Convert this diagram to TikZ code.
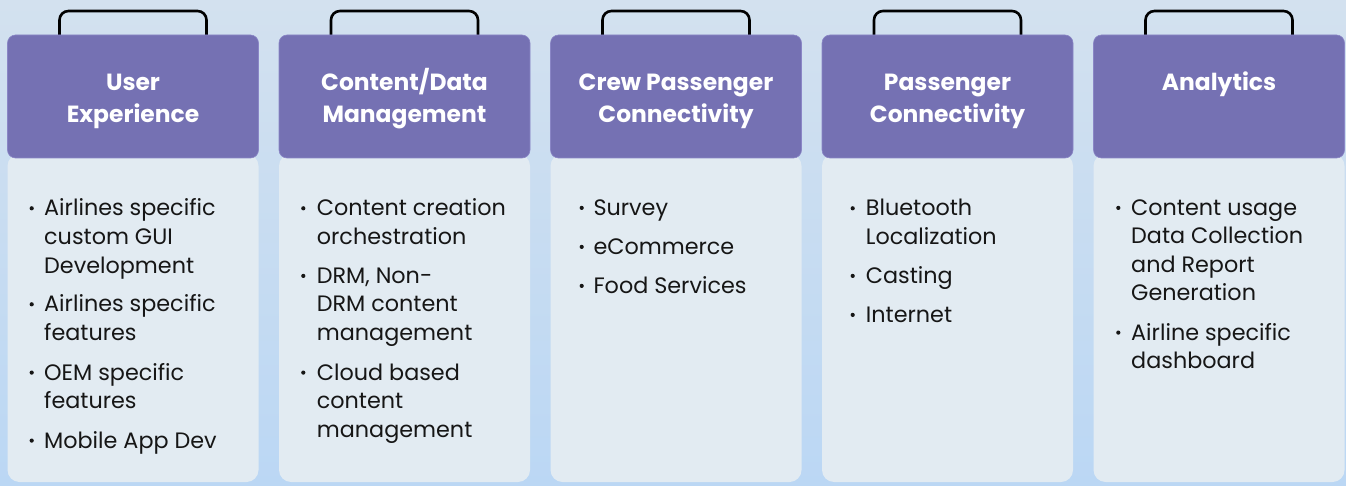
\documentclass[tikz,border=0pt]{standalone}
\usepackage{fontspec}
\setmainfont{Poppins}
\definecolor{bgtop}{HTML}{D3E1EF}
\definecolor{bgbot}{HTML}{BBD7F4}
\definecolor{cardbody}{HTML}{E2EBF2}
\definecolor{hdrfill}{HTML}{7571B3}
\definecolor{hdredge}{HTML}{8A86C6}
\definecolor{ink}{HTML}{161616}
\tikzset{
  hdr/.style={rectangle, rounded corners=8pt, fill=hdrfill, draw=hdredge, line width=0.6pt,
    minimum width=251pt, minimum height=123pt, inner sep=0pt},
  bodybox/.style={rectangle, rounded corners=12pt, fill=cardbody,
    minimum width=251pt, minimum height=328pt, inner sep=0pt},
  handle/.style={draw=black, line width=2.6pt, rounded corners=9pt},
  htxt/.style={anchor=base, text=white, font=\bfseries\fontsize{23.4}{27}\selectfont, inner sep=0pt},
  txt/.style={anchor=base west, text=ink, font=\fontsize{22.3}{26}\selectfont, inner sep=0pt},
  bul/.style={circle, fill=ink, inner sep=0pt, minimum size=4.2pt},
}
\begin{document}
\begin{tikzpicture}[x=1pt,y=-1pt]
\shade[top color=bgtop, bottom color=bgbot] (0,0) rectangle (1346,486);
\useasboundingbox (0,0) rectangle (1346,486);

% handles
\draw[handle] (59.5,36) -- (59.5,11) -- (206.5,11) -- (206.5,36);
\draw[handle] (331,36) -- (331,11) -- (478,11) -- (478,36);
\draw[handle] (602.5,36) -- (602.5,11) -- (749.5,11) -- (749.5,36);
\draw[handle] (874,36) -- (874,11) -- (1021,11) -- (1021,36);
\draw[handle] (1145.5,36) -- (1145.5,11) -- (1292.5,11) -- (1292.5,36);

% card bodies
\node[bodybox] (b1) at (133,318) {};
\node[bodybox] (b2) at (404.5,318) {};
\node[bodybox] (b3) at (676,318) {};
\node[bodybox] (b4) at (947.5,318) {};
\node[bodybox] (b5) at (1219,318) {};

% headers
\node[hdr] (h1) at (133,96.5) {};
\node[hdr] (h2) at (404.5,96.5) {};
\node[hdr] (h3) at (676,96.5) {};
\node[hdr] (h4) at (947.5,96.5) {};
\node[hdr] (h5) at (1219,96.5) {};

\node[htxt] (h1a) at (133,91) {User};
\node[htxt] (h1b) at (133,123) {Experience};
\node[htxt] (h2a) at (404.5,91) {Content/Data};
\node[htxt] (h2b) at (404.5,123) {Management};
\node[htxt] (h3a) at (676,91) {Crew Passenger};
\node[htxt] (h3b) at (676,123) {Connectivity};
\node[htxt] (h4a) at (947.5,91) {Passenger};
\node[htxt] (h4b) at (947.5,123) {Connectivity};
\node[htxt] (h5a) at (1219,91) {Analytics};

% card 1
\node[bul] (c1p1) at (31.7,208.3) {};
\node[bul] (c1p2) at (31.7,304.3) {};
\node[bul] (c1p3) at (31.7,372.6) {};
\node[bul] (c1p4) at (31.7,440.6) {};
\node[txt] (c1l1) at (44,215.7) {Airlines specific};
\node[txt] (c1l2) at (44,244.3) {custom GUI};
\node[txt] (c1l3) at (44,273) {Development};
\node[txt] (c1l4) at (44,311.7) {Airlines specific};
\node[txt] (c1l5) at (44,340.5) {features};
\node[txt] (c1l6) at (44,380) {OEM specific};
\node[txt] (c1l7) at (44,408.5) {features};
\node[txt] (c1l8) at (44,448) {Mobile App Dev};

% card 2
\node[bul] (c2p1) at (303.3,208.3) {};
\node[bul] (c2p2) at (303.3,275.9) {};
\node[bul] (c2p3) at (303.3,372.6) {};
\node[txt] (c2l1) at (316.7,215.7) {Content creation};
\node[txt] (c2l2) at (316.7,244.3) {orchestration};
\node[txt] (c2l3) at (316.7,283.3) {DRM, Non-};
\node[txt] (c2l4) at (316.7,312) {DRM content};
\node[txt] (c2l5) at (316.7,340.7) {management};
\node[txt] (c2l6) at (316.7,380) {Cloud based};
\node[txt] (c2l7) at (316.7,408.5) {content};
\node[txt] (c2l8) at (316.7,437) {management};

% card 3
\node[bul] (c3p1) at (581.7,207.9) {};
\node[bul] (c3p2) at (581.7,246.9) {};
\node[bul] (c3p3) at (581.7,285.9) {};
\node[txt] (c3l1) at (593.3,215.3) {Survey};
\node[txt] (c3l2) at (593.3,254.3) {eCommerce};
\node[txt] (c3l3) at (593.3,293.3) {Food Services};

% card 4
\node[bul] (c4p1) at (852.7,208.3) {};
\node[bul] (c4p2) at (852.7,275.9) {};
\node[bul] (c4p3) at (852.7,314.9) {};
\node[txt] (c4l1) at (865.7,215.7) {Bluetooth};
\node[txt] (c4l2) at (865.7,244.3) {Localization};
\node[txt] (c4l3) at (865.7,283.3) {Casting};
\node[txt] (c4l4) at (865.7,322.3) {Internet};

% card 5
\node[bul] (c5p1) at (1118.3,207.9) {};
\node[bul] (c5p2) at (1118.3,332.6) {};
\node[txt] (c5l1) at (1131,215.3) {Content usage};
\node[txt] (c5l2) at (1131,243.8) {Data Collection};
\node[txt] (c5l3) at (1131,272.5) {and Report};
\node[txt] (c5l4) at (1131,301) {Generation};
\node[txt] (c5l5) at (1131,340) {Airline specific};
\node[txt] (c5l6) at (1131,368.7) {dashboard};
\end{tikzpicture}
\end{document}
